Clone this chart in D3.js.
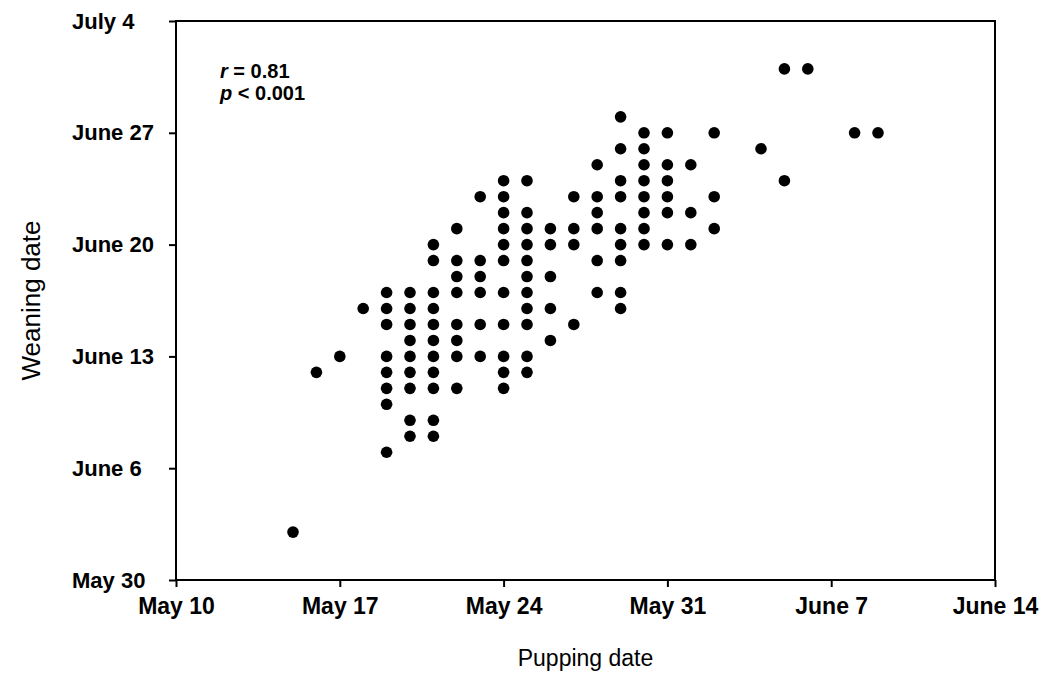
<!DOCTYPE html>
<html>
<head>
<meta charset="utf-8">
<script src="https://cdn.jsdelivr.net/npm/d3@7"></script>
<style>
  html, body { margin: 0; padding: 0; background: #fff; }
  svg { display: block; font-family: "Liberation Sans", Arial, Helvetica, sans-serif; }
</style>
</head>
<body>
<svg id="chart" width="1044" height="685"></svg>
<script>
// Pupping date: days after May 10; Weaning date: days after May 30
const pupping = [
  5,
  9,
  10, 11,
  10, 11,
  9,
  9, 10, 11, 12, 14,
  6, 9, 10, 11, 14, 15,
  7, 9, 10, 11, 12, 13, 14, 15,
  10, 11, 12, 16,
  9, 10, 11, 12, 13, 14, 15, 17,
  8, 9, 10, 11, 15, 16, 19,
  9, 10, 11, 12, 13, 14, 15, 18, 19,
  12, 13, 15, 16,
  11, 12, 13, 14, 15, 18, 19,
  11, 14, 15, 16, 17, 19, 20, 21, 22,
  12, 14, 15, 16, 17, 18, 19, 20, 23,
  14, 15, 18, 20, 21, 22,
  13, 14, 17, 18, 19, 20, 21, 23,
  14, 15, 19, 20, 21, 26,
  18, 20, 21, 22,
  19, 20, 25,
  20, 21, 23, 29, 30,
  19,
  26, 27
];
const weaning = [
  3,
  8,
  9, 9,
  10, 10,
  11,
  12, 12, 12, 12, 12,
  13, 13, 13, 13, 13, 13,
  14, 14, 14, 14, 14, 14, 14, 14,
  15, 15, 15, 15,
  16, 16, 16, 16, 16, 16, 16, 16,
  17, 17, 17, 17, 17, 17, 17,
  18, 18, 18, 18, 18, 18, 18, 18, 18,
  19, 19, 19, 19,
  20, 20, 20, 20, 20, 20, 20,
  21, 21, 21, 21, 21, 21, 21, 21, 21,
  22, 22, 22, 22, 22, 22, 22, 22, 22,
  23, 23, 23, 23, 23, 23,
  24, 24, 24, 24, 24, 24, 24, 24,
  25, 25, 25, 25, 25, 25,
  26, 26, 26, 26,
  27, 27, 27,
  28, 28, 28, 28, 28,
  29,
  32, 32
];
const xTickValues = [0, 7, 14, 21, 28, 35];
const xTickLabels = ["May 10", "May 17", "May 24", "May 31", "June 7", "June 14"];
const yTickValues = [0, 7, 14, 21, 28, 35];
const yTickLabels = ["May 30", "June 6", "June 13", "June 20", "June 27", "July 4"];
const xTitle = "Pupping date";
const yTitle = "Weaning date";

const svg = d3.select("#chart");
const L = 176, R = 995, T = 21, B = 580;

const x = d3.scaleLinear().domain([0, 35]).range([L, R]);
const y = d3.scaleLinear().domain([0, 35]).range([B, T]);

// frame
svg.append("rect")
  .attr("x", L).attr("y", T).attr("width", R - L).attr("height", B - T)
  .attr("fill", "none").attr("stroke", "#000").attr("stroke-width", 2);

// x axis
const gx = svg.append("g").attr("transform", `translate(0,${B})`)
  .call(d3.axisBottom(x).tickValues(xTickValues)
    .tickFormat((d, i) => xTickLabels[i]).tickSize(7).tickSizeOuter(0).tickPadding(11));
gx.select(".domain").remove();
gx.selectAll(".tick line").attr("stroke", "#000").attr("stroke-width", 2);
gx.selectAll(".tick text").attr("fill", "#000")
  .style("font-size", "23px").style("font-weight", "bold");

// y axis
const gy = svg.append("g").attr("transform", `translate(${L},0)`)
  .call(d3.axisLeft(y).tickValues(yTickValues)
    .tickFormat((d, i) => yTickLabels[i]).tickSize(7).tickSizeOuter(0));
gy.select(".domain").remove();
gy.selectAll(".tick line").attr("stroke", "#000").attr("stroke-width", 2);
gy.selectAll(".tick text").attr("fill", "#000")
  .attr("text-anchor", "start").attr("x", 72 - L)
  .style("font-size", "22px").style("font-weight", "bold");

// points
svg.append("g").selectAll("circle")
  .data(pupping.map((p, i) => [p, weaning[i]]))
  .join("circle")
  .attr("cx", d => x(d[0]))
  .attr("cy", d => y(d[1]))
  .attr("r", 5.8)
  .attr("fill", "#000");

// titles
svg.append("text").attr("x", (L + R) / 2).attr("y", 666)
  .attr("text-anchor", "middle").style("font-size", "23px").text(xTitle);
svg.append("text")
  .attr("transform", `translate(40,${(T + B) / 2}) rotate(-90)`)
  .attr("text-anchor", "middle").style("font-size", "26px").text(yTitle);

// annotation
const ann = svg.append("g").style("font-size", "20px").style("font-weight", "bold");
const t1 = ann.append("text").attr("x", 220).attr("y", 78);
t1.append("tspan").style("font-style", "italic").text("r");
t1.append("tspan").text(" = 0.81");
const t2 = ann.append("text").attr("x", 220).attr("y", 100);
t2.append("tspan").style("font-style", "italic").text("p");
t2.append("tspan").text(" < 0.001");
</script>
</body>
</html>
